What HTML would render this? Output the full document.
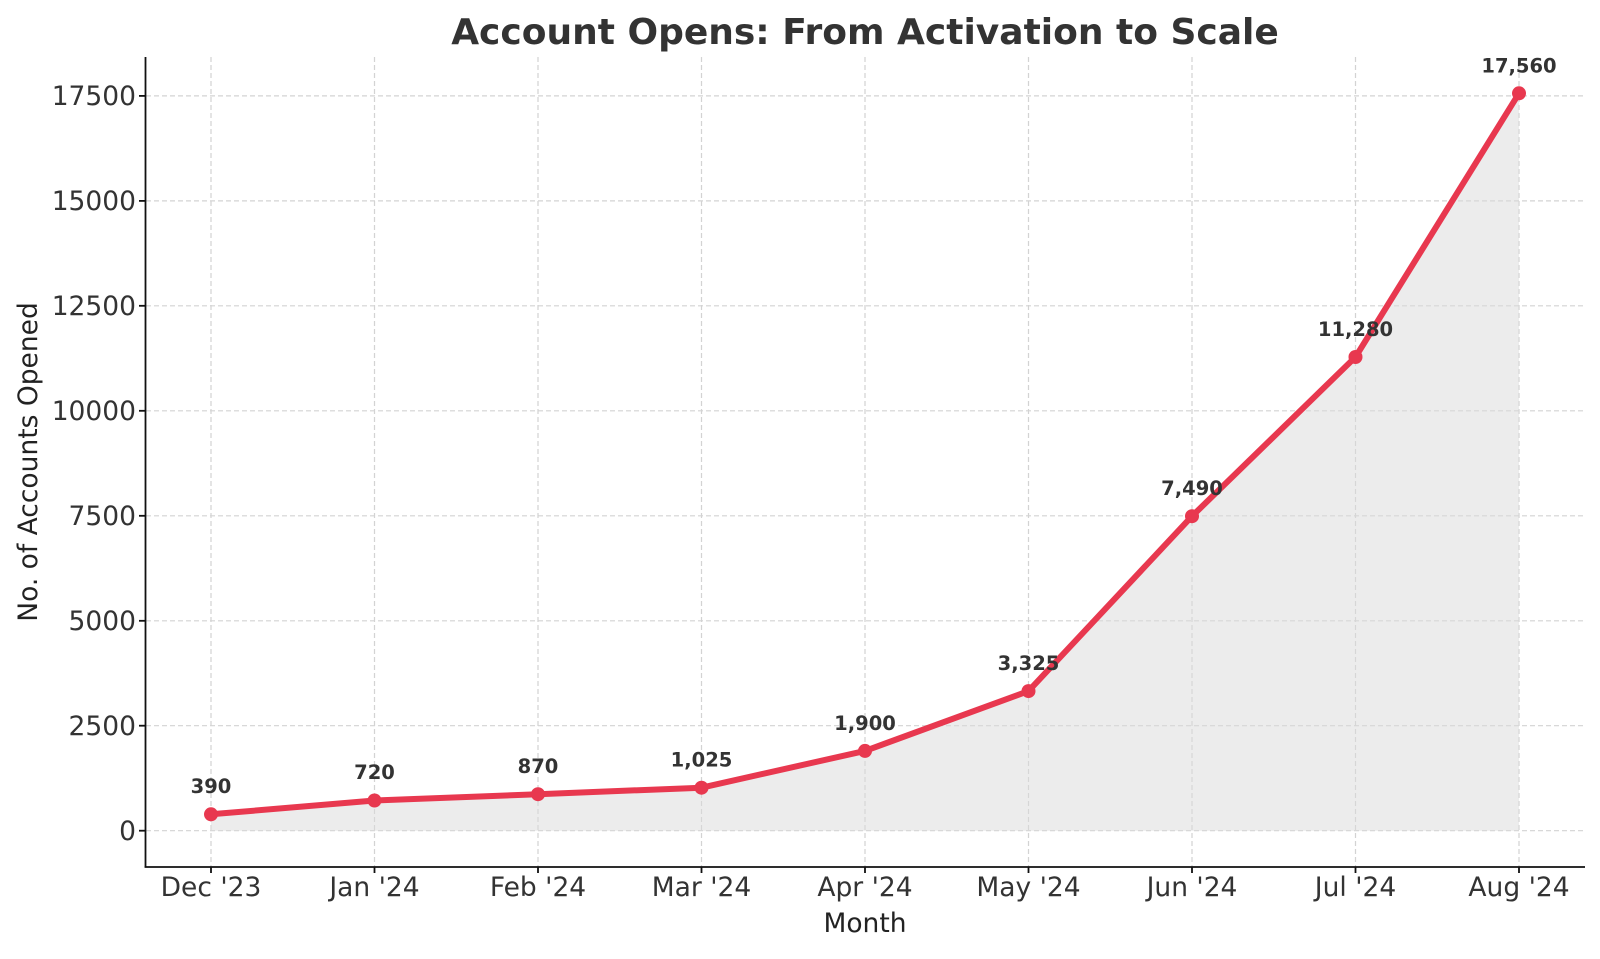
<!DOCTYPE html>
<html><head><meta charset="utf-8"><style>
html,body{margin:0;padding:0;background:#fff;}
svg text{font-family:"DejaVu Sans","Liberation Sans",sans-serif;fill:#333;}
</style></head><body>
<svg width="1600" height="954" viewBox="0 0 1600 954" xmlns="http://www.w3.org/2000/svg">
<rect width="1600" height="954" fill="#fff"/>
<g stroke="#d3d3d3" stroke-width="1.2" stroke-dasharray="5,3">
<line x1="146" x2="1585" y1="830.7" y2="830.7"/>
<line x1="146" x2="1585" y1="725.7" y2="725.7"/>
<line x1="146" x2="1585" y1="620.8" y2="620.8"/>
<line x1="146" x2="1585" y1="515.8" y2="515.8"/>
<line x1="146" x2="1585" y1="410.8" y2="410.8"/>
<line x1="146" x2="1585" y1="305.8" y2="305.8"/>
<line x1="146" x2="1585" y1="200.9" y2="200.9"/>
<line x1="146" x2="1585" y1="95.9" y2="95.9"/>
<line y1="57" y2="867" x1="211" x2="211"/>
<line y1="57" y2="867" x1="374.5" x2="374.5"/>
<line y1="57" y2="867" x1="538" x2="538"/>
<line y1="57" y2="867" x1="701.5" x2="701.5"/>
<line y1="57" y2="867" x1="865" x2="865"/>
<line y1="57" y2="867" x1="1028.5" x2="1028.5"/>
<line y1="57" y2="867" x1="1192" x2="1192"/>
<line y1="57" y2="867" x1="1355.5" x2="1355.5"/>
<line y1="57" y2="867" x1="1519" x2="1519"/>
</g>
<polygon fill="#d9d9d9" fill-opacity="0.5" points="211,830.7 211,814.3 374.5,800.5 538,794.2 701.5,787.7 865,750.9 1028.5,691.1 1192,516.2 1355.5,357.0 1519,93.3 1519,830.7"/>
<polyline fill="none" stroke="#e8384f" stroke-width="6" stroke-linejoin="round" points="211,814.3 374.5,800.5 538,794.2 701.5,787.7 865,750.9 1028.5,691.1 1192,516.2 1355.5,357.0 1519,93.3"/>
<g fill="#e8384f">
<circle cx="211" cy="814.3" r="7"/><circle cx="374.5" cy="800.5" r="7"/><circle cx="538" cy="794.2" r="7"/><circle cx="701.5" cy="787.7" r="7"/><circle cx="865" cy="750.9" r="7"/><circle cx="1028.5" cy="691.1" r="7"/><circle cx="1192" cy="516.2" r="7"/><circle cx="1355.5" cy="357.0" r="7"/><circle cx="1519" cy="93.3" r="7"/>
</g>
<g font-size="19.5" font-weight="bold" text-anchor="middle">
<text x="211" y="793">390</text>
<text x="374.5" y="779">720</text>
<text x="538" y="773">870</text>
<text x="701.5" y="766.5">1,025</text>
<text x="865" y="730">1,900</text>
<text x="1028.5" y="670">3,325</text>
<text x="1192" y="495">7,490</text>
<text x="1355.5" y="336">11,280</text>
<text x="1519" y="72.3">17,560</text>
</g>
<g stroke="#111" stroke-width="1.8">
<line x1="145.5" y1="57" x2="145.5" y2="867.5"/>
<line x1="144.6" y1="867" x2="1585" y2="867"/>
<line x1="139" x2="145" y1="830.7" y2="830.7"/><line x1="139" x2="145" y1="725.7" y2="725.7"/><line x1="139" x2="145" y1="620.8" y2="620.8"/><line x1="139" x2="145" y1="515.8" y2="515.8"/><line x1="139" x2="145" y1="410.8" y2="410.8"/><line x1="139" x2="145" y1="305.8" y2="305.8"/><line x1="139" x2="145" y1="200.9" y2="200.9"/><line x1="139" x2="145" y1="95.9" y2="95.9"/>
<line y1="867" y2="873" x1="211" x2="211"/><line y1="867" y2="873" x1="374.5" x2="374.5"/><line y1="867" y2="873" x1="538" x2="538"/><line y1="867" y2="873" x1="701.5" x2="701.5"/><line y1="867" y2="873" x1="865" x2="865"/><line y1="867" y2="873" x1="1028.5" x2="1028.5"/><line y1="867" y2="873" x1="1192" x2="1192"/><line y1="867" y2="873" x1="1355.5" x2="1355.5"/><line y1="867" y2="873" x1="1519" x2="1519"/>
</g>
<g font-size="26.5" text-anchor="end" style="fill:#222">
<text x="136" y="840">0</text><text x="136" y="735">2500</text><text x="136" y="630">5000</text><text x="136" y="525">7500</text><text x="136" y="420">10000</text><text x="136" y="315">12500</text><text x="136" y="210">15000</text><text x="136" y="105">17500</text>
</g>
<g font-size="26.5" text-anchor="middle" style="fill:#222">
<text x="211" y="896">Dec '23</text><text x="374.5" y="896">Jan '24</text><text x="538" y="896">Feb '24</text><text x="701.5" y="896">Mar '24</text><text x="865" y="896">Apr '24</text><text x="1028.5" y="896">May '24</text><text x="1192" y="896">Jun '24</text><text x="1355.5" y="896">Jul '24</text><text x="1519" y="896">Aug '24</text>
</g>
<text x="865" y="932" font-size="26.5" text-anchor="middle" style="fill:#222">Month</text>
<text transform="translate(37,462) rotate(-90)" font-size="26.5" text-anchor="middle" style="fill:#222">No. of Accounts Opened</text>
<text x="865" y="44" font-size="36" font-weight="bold" text-anchor="middle">Account Opens: From Activation to Scale</text>
</svg>
</body></html>
